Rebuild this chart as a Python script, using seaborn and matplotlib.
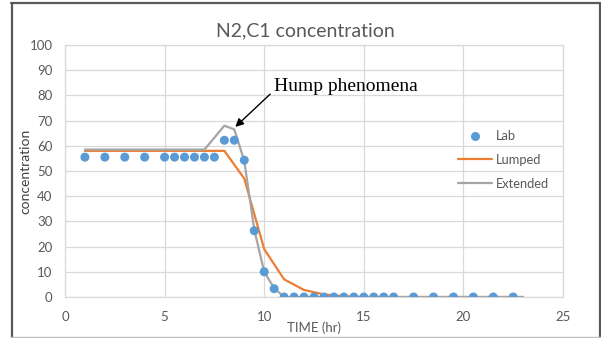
import matplotlib
matplotlib.use("Agg")
import matplotlib.pyplot as plt
import seaborn as sns
import pandas as pd
from matplotlib.lines import Line2D

# ---- data ----
lab_x = [1, 2, 3, 4, 5, 5.5, 6, 6.5, 7, 7.5, 8, 8.5, 9, 9.5, 10, 10.5,
         11, 11.5, 12, 12.5, 13, 13.5, 14, 14.5, 15, 15.5, 16, 16.5,
         17.5, 18.5, 19.5, 20.5, 21.5, 22.5]
lab_y = [55.5, 55.5, 55.5, 55.5, 55.5, 55.5, 55.5, 55.5, 55.5, 55.5,
         62.2, 62.2, 54.3, 26.3, 10.0, 3.3,
         0, 0, 0, 0, 0, 0, 0, 0, 0, 0, 0, 0,
         0, 0, 0, 0, 0, 0]

lumped_x = [1, 2, 3, 4, 5, 6, 7, 8, 9, 10, 11, 12, 13, 14, 15, 16, 17, 18, 19, 20, 21, 22, 23]
lumped_y = [58, 58, 58, 58, 58, 58, 58, 58, 47, 19, 7, 2.8, 1.0, 0.3, 0, 0, 0, 0, 0, 0, 0, 0, 0]

ext_x = [1, 2, 3, 4, 5, 6, 7, 8, 8.5, 9, 9.5, 10, 10.5, 11, 12, 13, 14, 15, 16, 17, 18, 19, 20, 21, 22, 23]
ext_y = [58.5, 58.5, 58.5, 58.5, 58.5, 58.5, 58.5, 68, 66.5, 54, 26.8, 10, 3.5, 0, 0, 0, 0, 0, 0, 0, 0, 0, 0, 0, 0, 0]

x_ticks = [0, 5, 10, 15, 20, 25]
y_ticks = [0, 10, 20, 30, 40, 50, 60, 70, 80, 90, 100]
series_names = ["Lab", "Lumped", "Extended"]

# ---- style ----
sns.set_theme(style="white")
plt.rcParams['font.family'] = ['Lato', 'DejaVu Sans']

C_LAB = "#5B9BD5"
C_LUMP = "#ED7D31"
C_EXT = "#A5A5A5"
C_TXT = "#595959"
C_GRID = "#D9D9D9"

fig = plt.figure(figsize=(6.01, 3.38), dpi=100)
ax = fig.add_axes([65 / 601, 1 - 297 / 338, (563 - 65) / 601, (297 - 45) / 338])

df_lab = pd.DataFrame({"x": lab_x, "y": lab_y})
df_lump = pd.DataFrame({"x": lumped_x, "y": lumped_y})
df_ext = pd.DataFrame({"x": ext_x, "y": ext_y})

sns.lineplot(data=df_lump, x="x", y="y", ax=ax, color=C_LUMP, linewidth=1.6,
             estimator=None, sort=False, zorder=3)
sns.lineplot(data=df_ext, x="x", y="y", ax=ax, color=C_EXT, linewidth=1.6,
             estimator=None, sort=False, zorder=4)
sns.scatterplot(data=df_lab, x="x", y="y", ax=ax, color=C_LAB, s=42,
                edgecolor="none", linewidth=0, zorder=5)

ax.set_xlim(0, 25)
ax.set_ylim(0, 100)
ax.set_xticks(x_ticks)
ax.set_yticks(y_ticks)
ax.grid(True, color=C_GRID, linewidth=0.9)
ax.set_axisbelow(True)
for s in ax.spines.values():
    s.set_color(C_GRID)
    s.set_linewidth(0.9)
ax.tick_params(axis="both", length=0, labelsize=9.5, labelcolor=C_TXT)
ax.tick_params(axis="x", pad=10)
ax.tick_params(axis="y", pad=9)

ax.set_xlabel("TIME (hr)", fontsize=9.5, color=C_TXT, labelpad=-1)
ax.set_ylabel("concentration", fontsize=10, color="#404040")
ax.yaxis.set_label_coords((31 - 65) / 498, 0.5)
fig.text(305 / 601, 1 - 31 / 338, "N2,C1 concentration", ha="center", va="center",
         fontsize=14, color=C_TXT)

# annotation
ax.annotate("", xy=(8.55, 67.5), xytext=(10.3, 80.5),
            arrowprops=dict(arrowstyle="-|>", color="black", lw=1.0,
                            mutation_scale=12, shrinkA=0, shrinkB=0), zorder=6)
ax.text(10.5, 83.5, "Hump phenomena", ha="left", va="center", fontsize=14,
        family=["Liberation Serif"], color="black", zorder=6)

# legend
handles = [
    Line2D([], [], linestyle="none", marker="o", markersize=6.5, color=C_LAB, markeredgewidth=0),
    Line2D([], [], color=C_LUMP, linewidth=1.6),
    Line2D([], [], color=C_EXT, linewidth=1.6),
]
leg = ax.legend(handles, series_names, loc="center left",
                bbox_to_anchor=((458 - 65) / 498, (297 - 160) / 252),
                frameon=False, fontsize=9.3, handlelength=2.6, handletextpad=0.35,
                labelspacing=0.9, borderpad=0, borderaxespad=0)
for t in leg.get_texts():
    t.set_color(C_TXT)

# figure border
bc = "#595959"
fig.add_artist(Line2D([11 / 601, 600 / 601], [1 - 3 / 338, 1 - 3 / 338], color=bc, lw=1.6, transform=fig.transFigure))
fig.add_artist(Line2D([11.5 / 601, 11.5 / 601], [0, 1 - 3 / 338], color=bc, lw=1.6, transform=fig.transFigure))
fig.add_artist(Line2D([600 / 601, 600 / 601], [1 / 338, 1 - 3 / 338], color=bc, lw=1.6, transform=fig.transFigure))
fig.add_artist(Line2D([11 / 601, 600 / 601], [1.2 / 338, 1.2 / 338], color="#BFBFBF", lw=1.0, transform=fig.transFigure))

fig.savefig("out.png", dpi=100)
